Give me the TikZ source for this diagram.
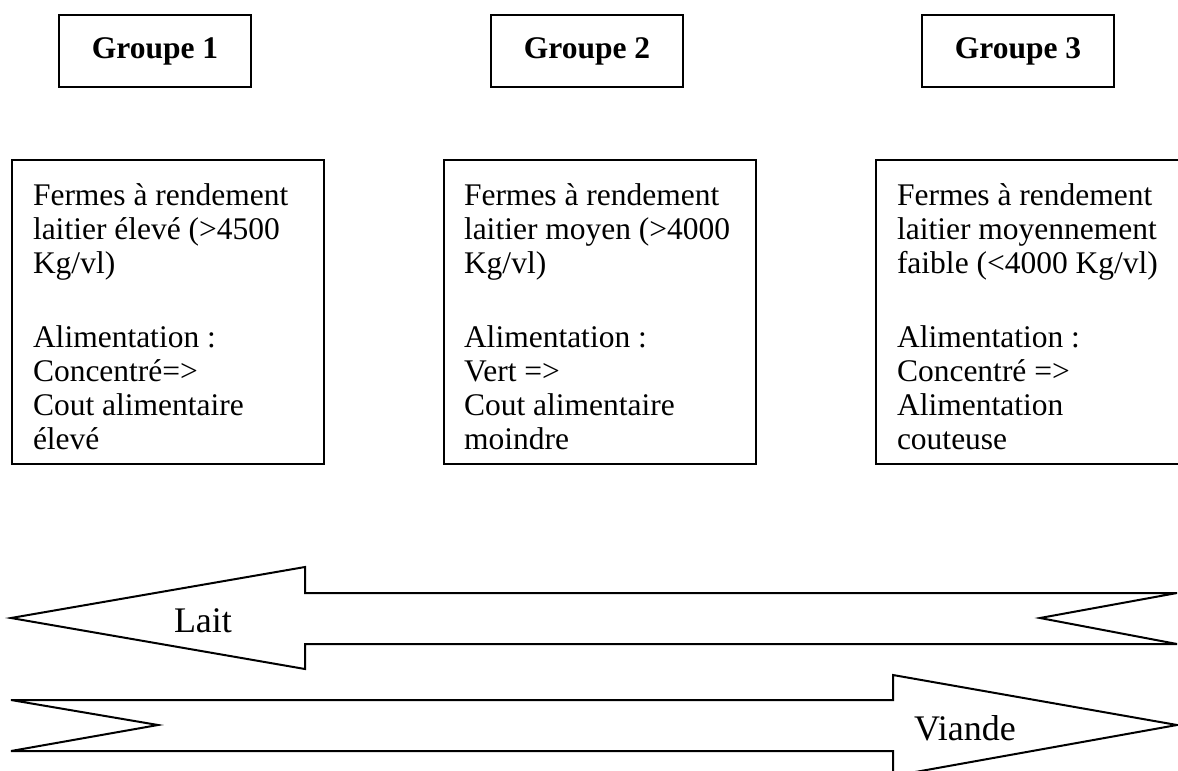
\documentclass[tikz,border=0pt]{standalone}
\usepackage{fontspec}
\setmainfont{Liberation Serif}
\begin{document}
\begin{tikzpicture}[x=0.5pt,y=-0.5pt,line width=1pt,
  grp/.style={draw,minimum width=96pt,minimum height=36pt,inner sep=0pt,
    font=\fontsize{15.75}{17}\selectfont\bfseries},
  farm/.style={draw,anchor=north west,minimum width=156pt,minimum height=152pt,inner sep=0pt},
  farmtext/.style={anchor=north west,inner sep=0pt,align=left,
    font=\fontsize{15.75}{17}\selectfont},
  flow/.style={draw,fill=white,line join=miter},
  flowlabel/.style={anchor=base west,inner sep=0pt,font=\fontsize{18}{20}\selectfont}]
\useasboundingbox (0,0) rectangle (1178,771);
\clip (0,0) rectangle (1178,771);

% group headers
\node[grp] (g1) at (155,51) {Groupe 1};
\node[grp] (g2) at (587,51) {Groupe 2};
\node[grp] (g3) at (1018,51) {Groupe 3};

% farm description boxes
\node[farm] (b1) at (11,159) {};
\node[farm] (b2) at (443,159) {};
\node[farm] (b3) at (875,159) {};

\node[farmtext] (t1) at (32,183) {Fermes à rendement\\laitier élevé (>4500\\Kg/vl)\\[19.75pt]Alimentation :\\Concentré=>\\Cout alimentaire\\élevé};
\node[farmtext] (t2) at (463,183) {Fermes à rendement\\laitier moyen (>4000\\Kg/vl)\\[19.75pt]Alimentation :\\Vert =>\\Cout alimentaire\\moindre};
\node[farmtext] (t3) at (896,183) {Fermes à rendement\\laitier moyennement\\faible (<4000 Kg/vl)\\[19.75pt]Alimentation :\\Concentré =>\\Alimentation\\couteuse};

% milk: block arrow pointing left
\draw[flow] (11,618) -- (305,567) -- (305,593) -- (1177,593) -- (1040,618)
  -- (1177,644) -- (305,644) -- (305,669) -- cycle;
\node[flowlabel] (lait) at (173,632) {Lait};

% meat: block arrow pointing right
\draw[flow] (11,700) -- (893,700) -- (893,675) -- (1177,725) -- (893,776)
  -- (893,751) -- (11,751) -- (158,725) -- cycle;
\node[flowlabel] (viande) at (913,740) {Viande};
\end{tikzpicture}
\end{document}
